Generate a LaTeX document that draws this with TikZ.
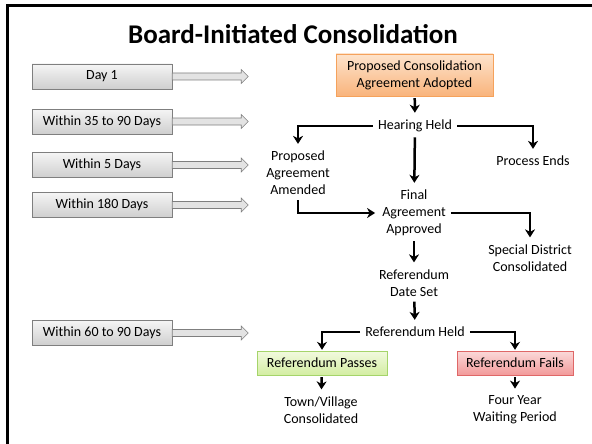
\documentclass[tikz,border=0pt]{standalone}
\usepackage{fontspec}
\setmainfont{Carlito}
\usetikzlibrary{arrows.meta}
\usetikzlibrary{positioning}

\definecolor{boxline}{HTML}{7F7F7F}
\definecolor{orangetop}{HTML}{FDE3CC}
\definecolor{orangebot}{HTML}{F9B47C}
\definecolor{orangeline}{HTML}{F5A25C}
\definecolor{greentop}{HTML}{F2FADF}
\definecolor{greenbot}{HTML}{D3EDA2}
\definecolor{greenline}{HTML}{A5D46A}
\definecolor{redtop}{HTML}{FBD9D9}
\definecolor{redbot}{HTML}{F29A9A}
\definecolor{redline}{HTML}{DF6767}

\begin{document}
\begin{tikzpicture}[x=1pt,y=-1pt,
  every node/.style={font=\fontsize{14}{17}\selectfont, align=center},
  timebox/.style={draw=boxline, top color=gray!8, bottom color=gray!38,
    minimum width=140pt, minimum height=25pt, inner sep=0pt},
  timearrow/.style={draw=boxline, fill=gray!22, line width=0.6pt},
  stage/.style={inner sep=3pt},
  stagebox/.style={inner sep=3pt, minimum height=24pt},
  flow/.style={line width=2.5pt, shorten <=2pt, shorten >=4pt,
    -{Stealth[length=8pt,width=10pt,inset=2.5pt]}}]
\useasboundingbox (0,0) rectangle (592,444);
\draw[line width=3pt] (7,450) -- (7,6) -- (600,6);

\node (title) at (293,34) {\fontsize{27}{32}\selectfont\bfseries Board-Initiated Consolidation};

% time line on the left
\node[timebox] (day1) at (102,76.5) {Day 1};
\node[timebox] (within35) at (102,121.5) {Within 35 to 90 Days};
\node[timebox] (within5) at (102,165) {Within 5 Days};
\node[timebox] (within180) at (102,205) {Within 180 Days};
\node[timebox] (within60) at (102,333) {Within 60 to 90 Days};
\foreach \t in {day1,within35,within5,within180,within60}
  \draw[timearrow] (\t.east) ++(0,-3.5) -- ++(69,0) -- ++(0,-3.5) -- ++(7,7)
    -- ++(-7,7) -- ++(0,-3.5) -- ++(-69,0) -- cycle;

% steps
\node[stagebox, draw=orangeline, top color=orangetop, bottom color=orangebot,
  minimum width=157pt, minimum height=42pt] (adopted) at (414.5,75)
  {Proposed Consolidation\\Agreement Adopted};
\node[stage] (hearing) at (415,126) {Hearing Held};
\node[stage] (amended) at (298,173) {Proposed\\Agreement\\Amended};
\node[stage] (ends) at (533,161) {Process Ends};
\node[stage] (final) at (414,213) {Final\\Agreement\\Approved};
\node[stage] (special) at (530,258) {Special District\\Consolidated};
\node[stage] (dateset) at (414,283) {Referendum\\Date Set};
\node[stage] (refheld) at (415,332) {Referendum Held};
\node[stagebox, draw=greenline, top color=greentop, bottom color=greenbot,
  minimum width=130pt] (passes) at (322,363) {Referendum Passes};
\node[stagebox, draw=redline, top color=redtop, bottom color=redbot,
  minimum width=116pt] (fails) at (515,363) {Referendum Fails};
\node[stage] (townvillage) at (321,410) {Town/Village\\Consolidated};
\node[stage] (waiting) at (515,410) {Four Year\\Waiting Period};

\draw[flow] (adopted) -- (hearing);
\draw[flow] (hearing.west) -| (amended.north);
\draw[flow] (hearing.east) -| (ends.north);
\draw[flow] (hearing) -- (final);
\draw[flow] (amended.south) |- (final.west);
\draw[flow] (final.east) -| (special.north);
\draw[flow] (final) -- (dateset);
\draw[flow] (dateset) -- (refheld);
\draw[flow, shorten >=1pt] (refheld.west) -| (passes.north);
\draw[flow, shorten >=1pt] (refheld.east) -| (fails.north);
\draw[flow] (passes) -- (townvillage);
\draw[flow] (fails) -- (waiting);
\end{tikzpicture}
\end{document}
